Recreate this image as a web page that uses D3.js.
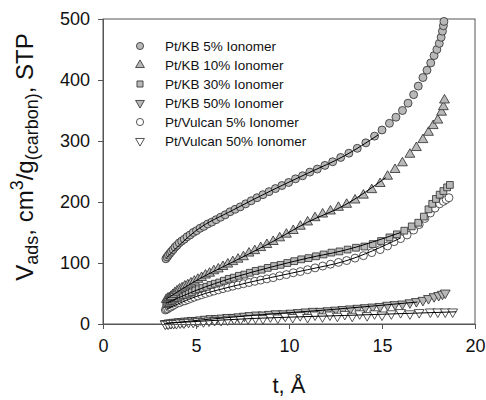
<!DOCTYPE html>
<html><head><meta charset="utf-8">
<script src="https://cdn.jsdelivr.net/npm/d3@7"></script>
<style>body{margin:0;background:#fff}svg{display:block;font-family:"Liberation Sans",Arial,sans-serif}</style>
</head><body><svg id="c" width="486" height="400"></svg>
<script>
// ---- data ----
const seriesNames = ["Pt/KB 5% Ionomer","Pt/KB 10% Ionomer","Pt/KB 30% Ionomer","Pt/KB 50% Ionomer","Pt/Vulcan 5% Ionomer","Pt/Vulcan 50% Ionomer"];
const xTicks = [0,5,10,15,20];
const yTicks = [0,100,200,300,400,500];

const tKB5 = [3.38,3.45,3.52,3.6,3.68,3.77,3.87,3.98,4.1,4.23,4.37,4.52,4.68,4.85,5.03,5.22,5.42,5.63,5.85,6.08,6.32,6.57,6.83,7.1,7.38,7.67,7.97,8.28,8.6,8.93,9.27,9.62,9.98,10.35,10.73,11.12,11.52,11.93,12.35,12.78,13.22,13.67,14.13,14.6,15.0,15.4,15.75,16.1,16.4,16.7,16.95,17.2,17.42,17.62,17.8,17.95,18.08,18.18,18.25,18.3,18.33];
const vKB5 = [107,110,113,116,119,122,126,129,133,136,139,143,146,150,153,157,160,164,167,171,175,179,184,188,192,197,202,207,212,217,222,227,232,238,243,249,254,260,266,273,280,288,297,308,318,329,339,350,362,376,390,404,416,428,440,450,460,470,480,489,496];

const tKB10 = [3.4,3.48,3.56,3.65,3.75,3.86,3.98,4.11,4.25,4.4,4.56,4.73,4.91,5.1,5.3,5.51,5.73,5.96,6.2,6.45,6.71,6.98,7.26,7.55,7.85,8.16,8.48,8.81,9.15,9.5,9.86,10.23,10.61,11.0,11.4,11.81,12.23,12.66,13.1,13.55,14.0,14.45,14.9,15.3,15.7,16.1,16.5,16.85,17.2,17.5,17.75,18.0,18.2,18.3,18.36];
const vKB10 = [40,42,43,45,48,51,54,57,59,62,64,67,70,73,76,80,83,87,90,94,98,102,106,110,116,120,125,130,135,141,147,153,160,167,174,180,185,191,196,203,211,220,230,242,253,264,278,289,302,314,325,334,347,356,367];

const tKB30 = [3.4,3.46,3.53,3.61,3.7,3.8,3.91,4.03,4.16,4.3,4.45,4.61,4.78,4.96,5.15,5.35,5.56,5.78,6.01,6.25,6.5,6.76,7.03,7.31,7.6,7.9,8.21,8.53,8.86,9.2,9.55,9.91,10.28,10.66,11.05,11.45,11.86,12.28,12.71,13.15,13.6,14.05,14.5,14.95,15.4,15.8,16.2,16.6,16.95,17.25,17.5,17.7,17.9,18.1,18.3,18.5,18.65];
const vKB30 = [33,34,35,37,38,40,42,43,45,47,48,50,52,55,57,59,61,64,66,68,71,74,76,79,81,84,87,89,92,95,97,100,103,106,108,111,114,117,119,122,125,127,131,136,142,147,153,160,166,176,188,197,205,212,218,224,228];

const tKB50 = [3.35,3.45,3.56,3.68,3.81,3.95,4.1,4.26,4.43,4.61,4.8,5.0,5.25,5.5,5.8,6.1,6.4,6.7,7.0,7.3,7.6,7.9,8.25,8.6,8.95,9.3,9.7,10.1,10.5,10.9,11.3,11.7,12.1,12.5,12.9,13.3,13.7,14.1,14.5,14.9,15.3,15.7,16.1,16.5,16.85,17.2,17.5,17.8,18.05,18.25,18.4];
const vKB50 = [1,1,2,2,3,3,4,4,5,5,6,6,7,8,9,9,10,11,11,12,13,14,15,15,16,17,17,18,19,20,21,21,22,23,24,25,26,27,28,29,31,32,33,35,37,39,42,45,47,49,51];

const tV5 = [3.35,3.41,3.48,3.56,3.65,3.75,3.86,3.98,4.11,4.25,4.4,4.56,4.73,4.91,5.1,5.3,5.51,5.73,5.96,6.2,6.45,6.71,6.98,7.26,7.55,7.85,8.16,8.48,8.81,9.15,9.5,9.86,10.23,10.61,11.0,11.4,11.81,12.23,12.66,13.1,13.55,14.0,14.45,14.9,15.3,15.65,16.0,16.35,16.7,17.0,17.3,17.6,17.85,18.1,18.3,18.45,18.6];
const vV5 = [23,24,25,27,28,30,32,34,35,37,38,40,42,44,46,48,50,52,54,56,58,60,62,64,66,68,70,72,74,76,79,81,84,86,89,92,95,98,101,104,108,112,117,122,128,135,140,146,154,163,173,182,190,197,201,204,207];

const tV50 = [3.35,3.5,3.65,3.8,3.95,4.15,4.35,4.6,4.85,5.1,5.4,5.7,6.0,6.35,6.7,7.05,7.4,7.8,8.2,8.6,9.0,9.4,9.8,10.2,10.6,11.0,11.4,11.8,12.2,12.6,13.0,13.4,13.8,14.2,14.6,15.0,15.5,16.0,16.5,17.0,17.6,18.0,18.4,18.8];
const vV50 = [0,0,1,1,1,2,2,3,3,4,4,5,6,6,7,8,8,9,10,9,12,10,13,11,14,11,15,12,15,13,16,13,17,14,17,15,17,19,17,19,20,20,20,20];

// fitted model lines
const fitTKB5 = [3.4,5,7,9,11,13,14.8];
const fitVKB5 = [108,153,187,218,247,276,310];
const fitTKB10 = [3.4,5,7,9,11,13,15.2];
const fitVKB10 = [41,71,102,133,167,195,240];
const fitTKB30 = [3.4,5,7,9,11,13,16];
const fitVKB30 = [34,55,76,93,108,121,150];
const fitTKB50 = [3.4,8,12,16.9];
const fitVKB50 = [1,14,23,36];
const fitTV5 = [3.4,5,7,9,11,13,16];
const fitVV5 = [24,45,62,76,89,103,141];
const fitTV50 = [3.3,8,13,19];
const fitVV50 = [1,9,14,20];

// ---- chart ----
const W = 486, H = 400;
const m = {l:103, r:11, t:19, b:76};
const svg = d3.select("#c");
const x = d3.scaleLinear().domain([0,20]).range([m.l, W-m.r]);
const y = d3.scaleLinear().domain([0,500]).range([H-m.b, m.t]);

const grey = "#b8b8b8", edge = "#2a2a2a";
const styles = [
  {t:tKB5, v:vKB5, sym:d3.symbolCircle, size:50, rot:0, fill:grey, ft:fitTKB5, fv:fitVKB5},
  {t:tKB10, v:vKB10, sym:d3.symbolTriangle, size:42, rot:0, fill:grey, ft:fitTKB10, fv:fitVKB10},
  {t:tKB30, v:vKB30, sym:d3.symbolSquare, size:46, rot:0, fill:grey, ft:fitTKB30, fv:fitVKB30},
  {t:tKB50, v:vKB50, sym:d3.symbolTriangle, size:42, rot:180, fill:grey, ft:fitTKB50, fv:fitVKB50},
  {t:tV5, v:vV5, sym:d3.symbolCircle, size:50, rot:0, fill:"#fff", ft:fitTV5, fv:fitVV5},
  {t:tV50, v:vV50, sym:d3.symbolTriangle, size:42, rot:180, fill:"#fff", ft:fitTV50, fv:fitVV50}
];

// frame
svg.append("rect").attr("x",m.l).attr("y",m.t).attr("width",W-m.r-m.l).attr("height",H-m.b-m.t)
  .attr("fill","none").attr("stroke","#555").attr("stroke-width",1);

const drawOrder = [3,5,4,2,1,0];
drawOrder.forEach(i=>{
  const s = styles[i];
  const sym = d3.symbol().type(s.sym).size(s.size);
  svg.append("g").selectAll("path").data(s.t.map((t,j)=>[t,s.v[j]])).join("path")
    .attr("d", sym)
    .attr("transform", d=>`translate(${x(d[0])},${y(d[1])}) rotate(${s.rot})`)
    .attr("fill", s.fill).attr("stroke", edge).attr("stroke-width",0.8);
});
const line = d3.line().x(d=>x(d[0])).y(d=>y(d[1])).curve(d3.curveMonotoneX);
styles.forEach(s=>{
  svg.append("path").datum(s.ft.map((t,j)=>[t,s.fv[j]])).attr("d",line)
    .attr("fill","none").attr("stroke","#000").attr("stroke-width",1);
});

// axes
const xa = svg.append("g").attr("transform",`translate(0,${H-m.b})`)
  .call(d3.axisBottom(x).tickValues(xTicks).tickSize(5).tickPadding(10));
const ya = svg.append("g").attr("transform",`translate(${m.l},0)`)
  .call(d3.axisLeft(y).tickValues(yTicks).tickSize(5).tickPadding(8));
[xa,ya].forEach(a=>{
  a.select(".domain").attr("stroke","#555");
  a.selectAll(".tick line").attr("stroke","#555");
  a.selectAll("text").attr("font-size",18).attr("fill","#111").attr("font-family","Liberation Sans, Arial, sans-serif");
});

// axis titles
svg.append("text").attr("x",(m.l+W-m.r)/2).attr("y",393).attr("text-anchor","middle")
  .attr("font-size",22).attr("fill","#111").text("t, Å");
const yt = svg.append("text").attr("transform","translate(33,157) rotate(-90)")
  .attr("text-anchor","middle").attr("font-size",24).attr("fill","#111");
yt.append("tspan").text("V");
yt.append("tspan").attr("font-size",18).attr("dy",5).text("ads");
yt.append("tspan").attr("dy",-5).text(", cm");
yt.append("tspan").attr("font-size",18).attr("dy",-10).text("3");
yt.append("tspan").attr("dy",10).text("/g");
yt.append("tspan").attr("font-size",18).attr("dy",5).text("(carbon)");
yt.append("tspan").attr("dy",-5).text(", STP");

// legend
const lg = svg.append("g");
styles.forEach((s,i)=>{
  const yy = 46 + i*19;
  lg.append("path").attr("d", d3.symbol().type(s.sym).size(s.size*0.8)())
    .attr("transform",`translate(140,${yy}) rotate(${s.rot})`)
    .attr("fill", s.fill).attr("stroke", edge).attr("stroke-width",0.8);
  lg.append("text").attr("x",165).attr("y",yy+5).attr("font-size",13.5).attr("fill","#111").text(seriesNames[i]);
});
</script></body></html>
